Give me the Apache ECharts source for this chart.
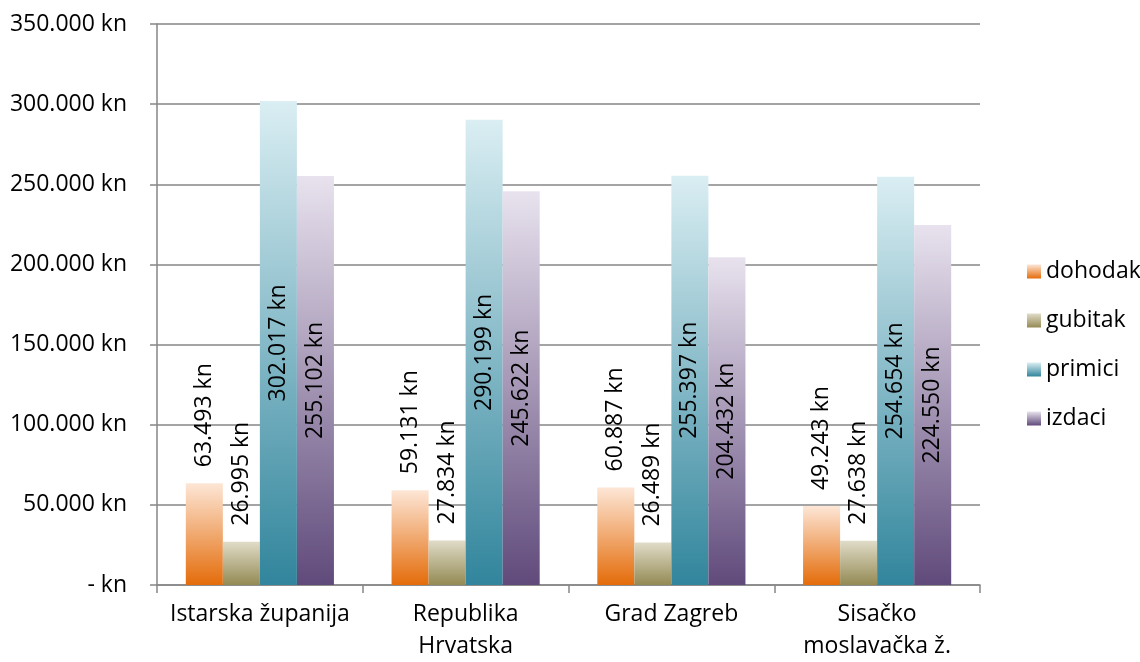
<!DOCTYPE html>
<html>
<head>
<meta charset="utf-8">
<script src="https://cdn.jsdelivr.net/npm/echarts@6/dist/echarts.min.js"></script>
<style>
html,body{margin:0;padding:0;background:#fff;}
#chart{width:1140px;height:662px;}
</style>
</head>
<body>
<div id="chart"></div>
<script>
const categories = ['Istarska županija', 'Republika\nHrvatska', 'Grad Zagreb', 'Sisačko\nmoslavačka ž.'];
const seriesNames = ['dohodak', 'gubitak', 'primici', 'izdaci'];
const dohodak = [63493, 59131, 60887, 49243];
const gubitak = [26995, 27834, 26489, 27638];
const primici = [302017, 290199, 255397, 254654];
const izdaci = [255102, 245622, 204432, 224550];
const yTicks = [0, 50000, 100000, 150000, 200000, 250000, 300000, 350000];

const FONT = 'Open Sans';
const FS = 23;

function fmt(v) {
  if (v === 0) return '- kn';
  return String(Math.round(v)).replace(/\B(?=(\d{3})+(?!\d))/g, '.') + ' kn';
}

function grad(top, bottom) {
  return new echarts.graphic.LinearGradient(0, 0, 0, 1, [
    { offset: 0, color: top },
    { offset: 1, color: bottom }
  ]);
}

const colors = [
  grad('#fde6d6', '#e46c0a'),
  grad('#e0dcc8', '#948a54'),
  grad('#daeef3', '#31859c'),
  grad('#e8e2ee', '#604a7b')
];

const dataArr = [dohodak, gubitak, primici, izdaci];

const series = seriesNames.map((name, i) => ({
  name: name,
  type: 'bar',
  data: dataArr[i],
  barGap: '0%',
  barCategoryGap: '28%',
  itemStyle: { color: colors[i] },
  label: i < 2 ? {
    show: true,
    position: 'top',
    distance: 16,
    rotate: 90,
    align: 'left',
    verticalAlign: 'middle',
    formatter: p => fmt(p.value),
    fontFamily: FONT,
    fontSize: FS,
    color: '#000'
  } : {
    show: true,
    position: 'inside',
    rotate: 90,
    align: 'center',
    verticalAlign: 'middle',
    formatter: p => fmt(p.value),
    fontFamily: FONT,
    fontSize: FS,
    color: '#000'
  }
}));

const chart = echarts.init(document.getElementById('chart'), null, { renderer: 'canvas' });
chart.setOption({
  animation: false,
  backgroundColor: '#fff',
  textStyle: { fontFamily: FONT },
  grid: { left: 157, right: 160, top: 24, bottom: 77 },
  legend: {
    orient: 'vertical',
    left: 1022,
    top: 255,
    itemWidth: 14,
    itemHeight: 14,
    itemGap: 26,
    icon: 'rect',
    textStyle: { fontFamily: FONT, fontSize: FS, color: '#000', lineHeight: 23 },
    data: seriesNames
  },
  xAxis: {
    type: 'category',
    data: categories,
    axisLine: { show: true, lineStyle: { color: '#868686', width: 1.5 } },
    axisTick: { show: true, length: 8, alignWithLabel: false, lineStyle: { color: '#868686', width: 1.5 } },
    axisLabel: { fontFamily: FONT, fontSize: FS, color: '#000', margin: 13, lineHeight: 32, interval: 0 }
  },
  yAxis: {
    type: 'value',
    min: yTicks[0],
    max: yTicks[yTicks.length - 1],
    interval: 50000,
    axisLine: { show: true, lineStyle: { color: '#868686', width: 1.5 } },
    axisTick: { show: true, length: 7, lineStyle: { color: '#868686', width: 1.5 } },
    splitLine: { show: true, lineStyle: { color: '#868686', width: 1.5 } },
    axisLabel: { fontFamily: FONT, fontSize: FS, color: '#000', margin: 30, formatter: v => fmt(v) }
  },
  series: series
});
</script>
</body>
</html>
